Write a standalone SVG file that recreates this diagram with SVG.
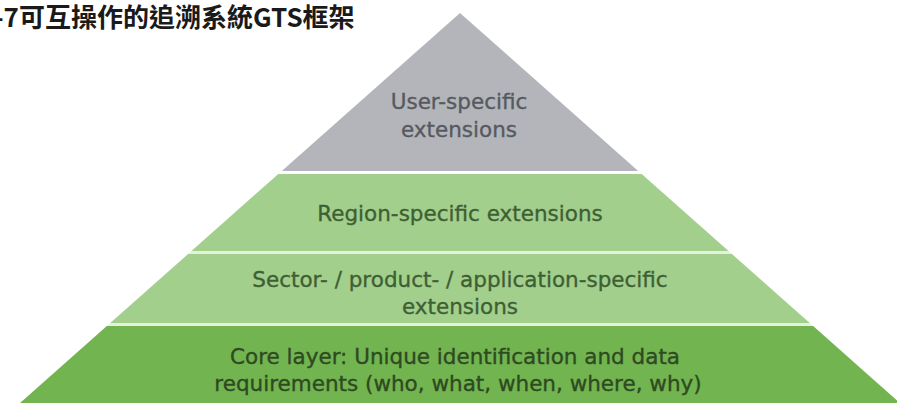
<svg xmlns="http://www.w3.org/2000/svg" width="897" height="403" viewBox="0 0 897 403">
  <style>
    .title { font-family: "Noto Sans CJK TC", "Noto Sans CJK SC", "DejaVu Sans", sans-serif; font-weight: bold; font-size: 26px; fill: #1a1a1a; }
    .lbl { font-family: "DejaVu Sans", Verdana, sans-serif; font-size: 21.5px; text-anchor: middle; stroke-width: 0.35px; }
    .lbl-grey { fill: #565a60; stroke: #565a60; }
    .lbl-green { fill: #3e5f34; stroke: #3e5f34; }
    .lbl-core { fill: #2e4a22; stroke: #2e4a22; }
    .grey { fill: #b3b5ba; }
    .light { fill: #a3cf8c; }
    .core { fill: #72b44f; }
  </style>

  <rect width="897" height="403" fill="#ffffff"/>

  <!-- figure caption, first character clipped at the left edge -->
  <text class="title" x="-6" y="27">-7可互操作的追溯系統GTS框架</text>

  <!-- pale seam colour showing between the green tiers -->
  <polygon points="278.4,174 641.6,174 899.9,403 20.1,403" fill="#e4f1dc"/>

  <g id="tier-user">
    <polygon class="grey" points="460,13 638.2,171 281.8,171"/>
    <text class="lbl lbl-grey" x="459" y="109">User-specific</text>
    <text class="lbl lbl-grey" x="459" y="137">extensions</text>
  </g>

  <g id="tier-region">
    <polygon class="light" points="278.4,174 641.6,174 728.5,251 191.5,251"/>
    <text class="lbl lbl-green" x="460" y="221">Region-specific extensions</text>
  </g>

  <g id="tier-sector">
    <polygon class="light" points="188.2,254 731.8,254 809.7,323 110.3,323"/>
    <text class="lbl lbl-green" x="460" y="287">Sector- / product- / application-specific</text>
    <text class="lbl lbl-green" x="460" y="314">extensions</text>
  </g>

  <g id="tier-core">
    <polygon class="core" points="106.9,326 813.1,326 899.9,403 20.1,403"/>
    <text class="lbl lbl-core" x="455" y="364">Core layer: Unique identification and data</text>
    <text class="lbl lbl-core" x="458" y="391">requirements (who, what, when, where, why)</text>
  </g>

  <g id="connectors"/>
</svg>
